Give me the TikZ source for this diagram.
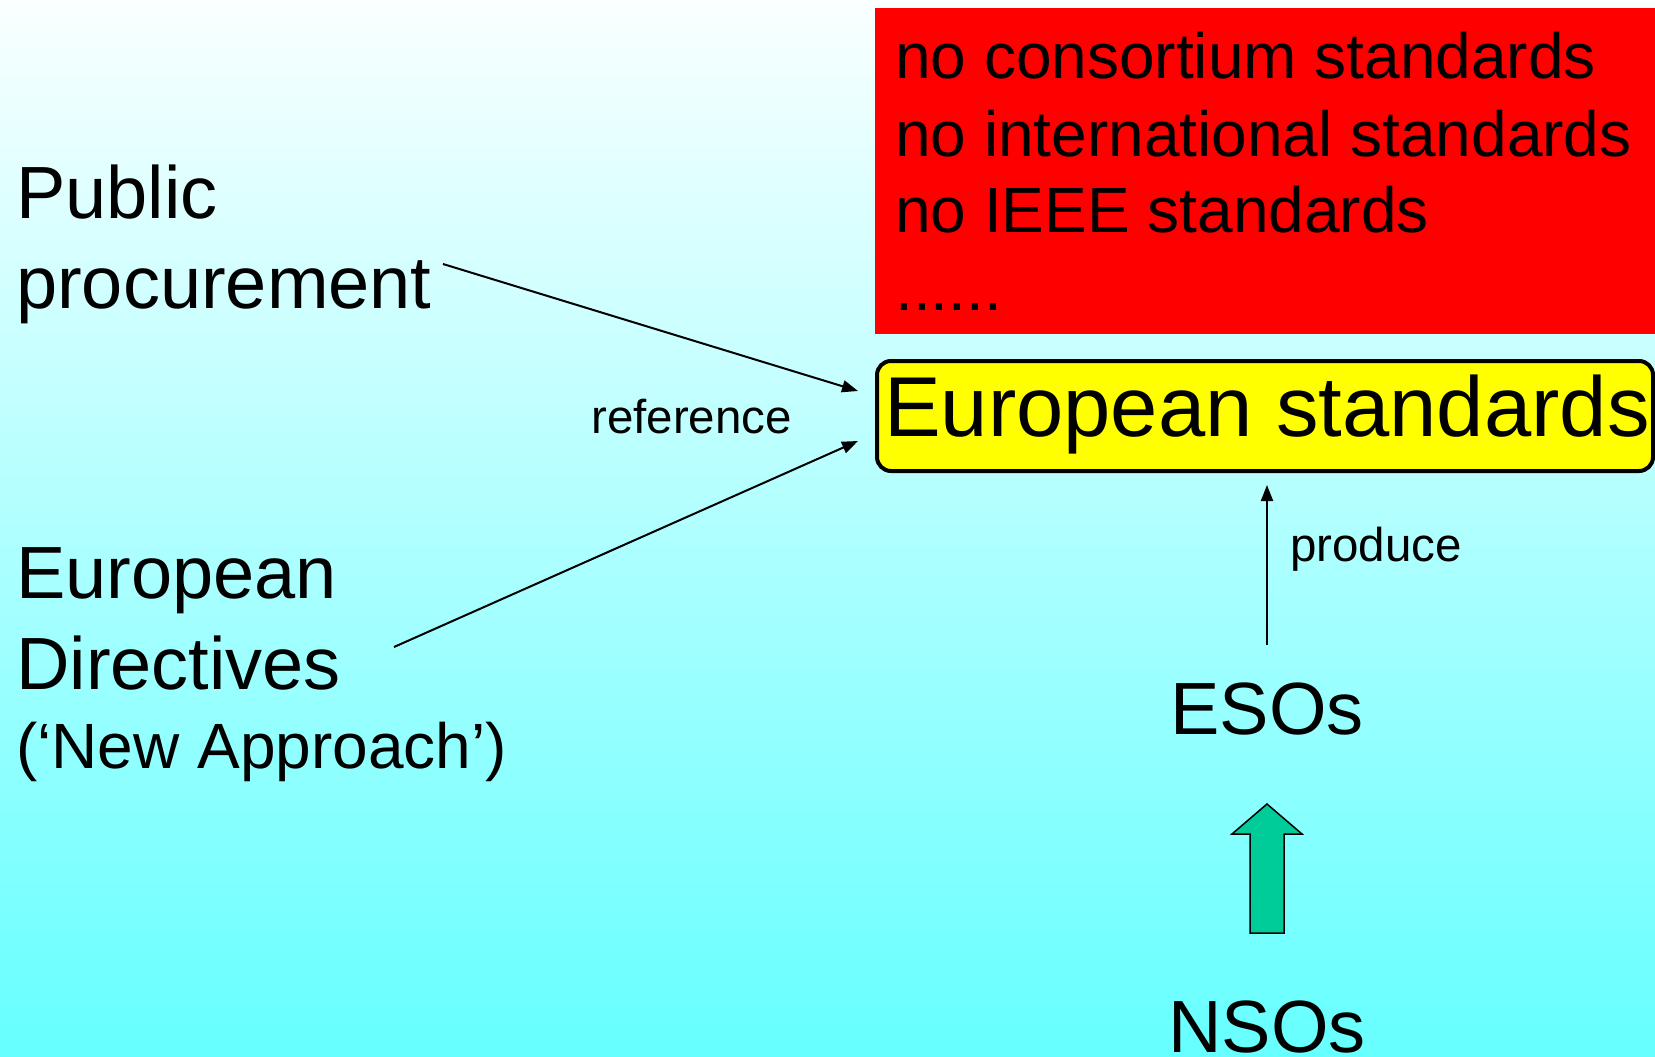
\documentclass[tikz,border=0pt]{standalone}
\usepackage{fontspec}
\setmainfont{Liberation Sans}
\usetikzlibrary{arrows.meta}
\definecolor{bgbottom}{RGB}{102,255,255}
\definecolor{bgtop}{RGB}{250,255,255}
\definecolor{arrowgreen}{RGB}{0,204,153}
\definecolor{boxyellow}{RGB}{255,255,0}
\begin{document}
\begin{tikzpicture}[x=1pt,y=-1pt,
  big/.style={font=\fontsize{74}{88}\selectfont, inner sep=0pt, anchor=base west},
  mid/.style={font=\fontsize{64}{76}\selectfont, inner sep=0pt, anchor=base west},
  small/.style={font=\fontsize{47.5}{56}\selectfont, inner sep=0pt, anchor=base west},
  conn/.style={line width=2pt, -{Triangle[length=16pt,width=12pt]}}]
\useasboundingbox (0,0) rectangle (1655,1057);
\shade[top color=bgtop, bottom color=bgbottom] (0,0) rectangle (1655,1057);

% red box
\node[fill=red, draw=none, minimum width=780pt, minimum height=326pt, anchor=north west, inner sep=0pt, outer sep=0pt] (redbox) at (875,8) {};
\node[mid] (r1) at (895,79) {no consortium standards};
\node[mid] (r2) at (895,156) {no international standards};
\node[mid] (r3) at (895,232) {no IEEE standards};
\node[mid] (r4) at (895,310) {......};

% yellow box
\node[fill=boxyellow, draw=black, line width=4pt, rounded corners=14pt, minimum width=776pt, minimum height=110pt, anchor=north west, inner sep=0pt, outer sep=0pt] (eurbox) at (877,361) {};
\node[font=\fontsize{85}{100}\selectfont, inner sep=0pt, anchor=base west] (eurtext) at (884,436) {European standards};

% left texts
\node[big] (pub1) at (16,218) {Public};
\node[big] (pub2) at (16,308) {procurement};
\node[big] (dir1) at (16,598) {European};
\node[big] (dir2) at (16,689) {Directives};
\node[mid] (dir3) at (16,768) {(‘New Approach’)};

\node[small] (ref) at (591,433) {reference};
\node[small] (prod) at (1290,561) {produce};

% bottom
\node[font=\fontsize{74}{88}\selectfont, inner sep=0pt, anchor=base] (esos) at (1267,734) {ESOs};
\node[font=\fontsize{74}{88}\selectfont, inner sep=0pt, anchor=base] (nsos) at (1267,1052) {NSOs};

% connectors
\coordinate (ppstart) at (443,264);
\coordinate (edstart) at (394,647);
\coordinate (tip1) at (858,391);
\coordinate (tip2) at (858,441);
\coordinate (prodstart) at (1267,645);
\coordinate (prodend) at (1267,485);
\draw[conn] (ppstart) -- (tip1);
\draw[conn] (edstart) -- (tip2);
\draw[conn] (prodstart) -- (prodend);

% green block arrow from NSOs to ESOs
\draw[fill=arrowgreen, line width=1.5pt, line join=miter]
  (1250,933) -- (1250,834) -- (1232,834) -- (1267,804) -- (1302,834) -- (1284,834) -- (1284,933) -- cycle;
\end{tikzpicture}
\end{document}
